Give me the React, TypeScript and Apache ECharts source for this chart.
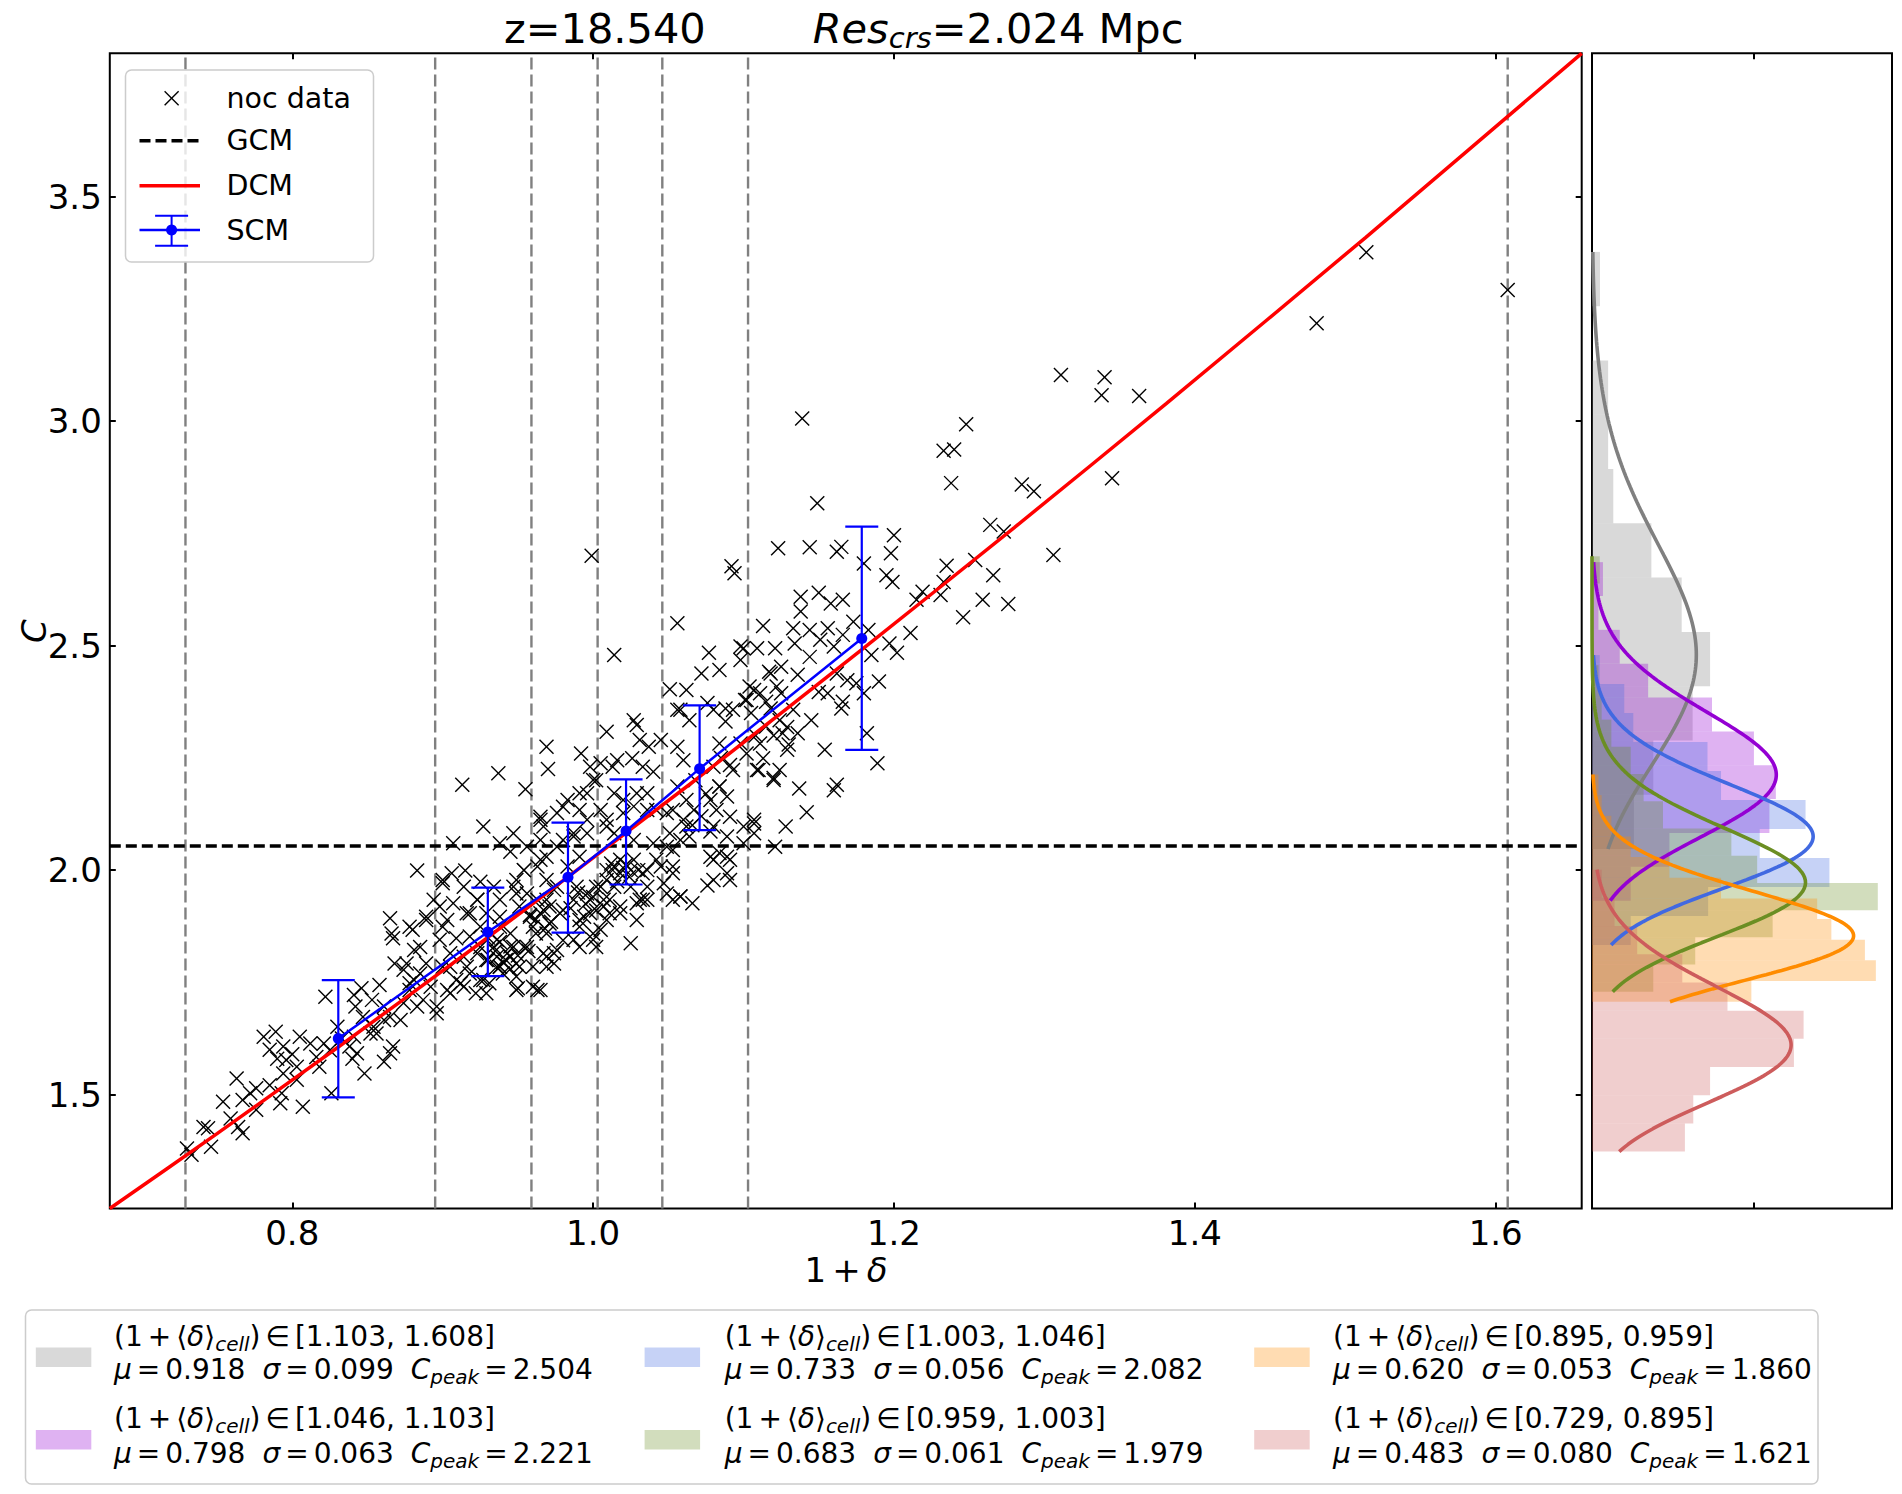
import React, { useEffect, useRef } from "react";
import * as echarts from "echarts";

const FONT = "DejaVu Sans";

// main panel axes
const xTicks = [0.8, 1.0, 1.2, 1.4, 1.6];
const yTicks = [1.5, 2.0, 2.5, 3.0, 3.5];
const deltaRange = [0.6787, 1.6572];
const cRange = [1.2463, 3.8194];

// cell bin edges (1+delta), global model, density model
const binEdges = [0.729, 0.895, 0.959, 1.003, 1.046, 1.103, 1.608];
const gcmC = 2.054;
const dcmDelta = [0.6787, 0.75, 0.8306, 0.93, 0.9833, 1.0708, 1.1786, 1.28, 1.381, 1.5135, 1.6572];
const dcmC = [1.2463, 1.413, 1.606, 1.85, 1.985, 2.208, 2.491, 2.763, 3.039, 3.409, 3.8194];

// SCM points with error bars
const scmDelta = [0.8306, 0.93, 0.9833, 1.0219, 1.0708, 1.1786];
const scmC = [1.625, 1.862, 1.984, 2.087, 2.226, 2.516];
const scmLow = [1.494, 1.764, 1.861, 1.968, 2.089, 2.268];
const scmHigh = [1.755, 1.961, 2.106, 2.202, 2.367, 2.765];

// noc data, [1+delta, C]
const nocHigh = [
  [1.514, 3.376], [1.608, 3.292], [1.481, 3.218], [1.311, 3.103], [1.34, 3.098], [1.338, 3.058], [1.363, 3.056],
  [1.139, 3.006], [1.248, 2.993], [1.233, 2.934], [1.24, 2.937], [1.238, 2.862], [1.285, 2.859], [1.293, 2.844],
  [1.345, 2.873], [1.149, 2.817], [1.264, 2.769], [1.273, 2.754], [1.2, 2.746], [1.123, 2.717], [1.144, 2.719],
  [1.162, 2.709], [1.165, 2.72], [1.198, 2.706], [1.18, 2.683], [1.306, 2.702], [1.235, 2.678], [1.254, 2.691],
  [1.195, 2.657], [1.199, 2.642], [1.266, 2.657], [1.233, 2.642], [1.219, 2.62], [1.215, 2.602], [1.231, 2.613],
  [1.259, 2.602], [1.276, 2.593], [1.246, 2.563], [1.211, 2.528], [1.138, 2.609], [1.15, 2.618], [1.158, 2.594],
  [1.166, 2.602], [1.138, 2.576], [1.113, 2.544], [1.133, 2.539], [1.144, 2.535], [1.156, 2.539], [1.173, 2.553],
  [1.183, 2.535], [1.166, 2.524], [1.151, 2.513], [1.134, 2.505], [1.121, 2.494], [1.109, 2.494], [1.1, 2.494],
  [1.197, 2.505], [1.202, 2.484], [1.185, 2.479], [1.144, 2.475], [1.16, 2.498], [1.125, 2.453], [1.117, 2.442],
  [1.136, 2.435], [1.162, 2.438], [1.169, 2.423], [1.19, 2.42], [1.175, 2.416], [1.104, 2.409], [1.111, 2.394],
  [1.122, 2.409], [1.125, 2.394], [1.15, 2.397], [1.156, 2.394], [1.18, 2.394], [1.102, 2.379], [1.115, 2.375],
  [1.166, 2.375], [1.165, 2.36], [1.133, 2.357], [1.124, 2.334], [1.145, 2.334], [1.129, 2.319], [1.136, 2.305],
  [1.126, 2.305], [1.182, 2.305], [1.111, 2.282], [1.129, 2.268], [1.154, 2.268], [1.102, 2.26], [1.113, 2.249],
  [1.124, 2.223], [1.11, 2.223], [1.12, 2.205], [1.189, 2.238], [1.137, 2.182], [1.162, 2.19], [1.16, 2.178],
  [1.142, 2.129], [1.107, 2.112], [1.128, 2.097], [1.107, 2.082], [1.1, 2.097], [1.121, 2.052],
  [0.999, 2.7], [1.014, 2.479], [1.056, 2.55], [1.092, 2.677], [1.094, 2.661], [1.077, 2.484], [1.098, 2.498],
  [1.072, 2.438], [1.084, 2.446], [1.098, 2.468], [1.051, 2.403], [1.062, 2.401], [1.058, 2.357], [1.076, 2.372],
  [1.088, 2.36], [1.101, 2.379], [1.107, 2.401], [1.118, 2.438], [1.027, 2.334],
  [1.105, 2.35], [1.115, 2.32], [1.12, 2.3], [1.13, 2.28], [1.108, 2.3], [1.118, 2.36],
];

const nocMid = [
  [0.913, 2.19], [0.937, 2.216], [0.955, 2.18], [0.969, 2.275], [0.97, 2.225], [0.927, 2.097], [0.947, 2.082],
  [0.945, 2.041], [0.907, 2.06], [0.883, 1.999], [0.9, 1.978], [0.915, 1.999], [1.009, 2.308], [1.029, 2.323],
  [0.992, 2.26], [0.998, 2.23], [1.005, 2.238], [1.016, 2.245], [1.026, 2.249], [1.031, 2.29], [1.037, 2.275],
  [1.045, 2.29], [1.033, 2.23], [1.04, 2.219], [1.056, 2.357], [1.064, 2.334], [1.08, 2.357], [1.088, 2.331],
  [1.093, 2.357], [1.084, 2.282], [1.098, 2.282], [1.056, 2.275], [1.06, 2.245], [1.08, 2.23], [1.091, 2.234],
  [1.084, 2.186], [1.089, 2.164], [1.082, 2.134], [1.091, 2.119], [1.078, 2.086], [1.056, 2.186], [1.062, 2.156],
  [1.049, 2.127], [1.06, 2.112], [1.051, 2.082], [1.064, 2.075], [1.036, 2.171], [1.042, 2.134], [1.014, 2.171],
  [1.02, 2.156], [1.027, 2.142], [1.0, 2.201], [0.996, 2.171], [0.991, 2.134], [0.983, 2.156], [0.976, 2.127],
  [1.005, 2.134], [1.009, 2.112], [1.014, 2.082], [0.996, 2.082], [0.987, 2.082], [0.967, 2.097], [0.965, 2.119],
  [0.98, 2.067], [1.1, 2.06], [1.107, 2.104], [1.084, 2.038], [1.08, 2.023], [1.091, 2.023], [1.08, 1.978],
  [1.014, 2.008], [1.018, 1.993], [1.009, 2.0], [1.027, 2.023], [1.033, 1.993], [1.045, 2.008], [1.053, 1.993],
  [1.049, 1.948], [1.058, 1.941], [1.025, 1.837], [1.036, 1.934], [1.029, 1.926], [1.005, 1.963], [0.996, 1.948],
  [1.007, 1.919], [0.998, 1.904], [1.011, 1.904], [0.991, 1.874], [1.005, 1.867], [1.0, 1.845], [0.987, 1.845],
  [0.978, 1.904], [0.971, 1.919], [0.987, 1.934], [0.976, 1.963], [0.969, 1.978], [0.963, 2.008], [0.969, 2.03],
  [0.954, 2.0], [0.949, 1.978], [0.956, 1.948], [0.951, 1.919], [0.965, 1.904], [0.96, 1.874], [0.969, 1.859],
  [0.956, 1.829], [0.967, 1.815], [0.974, 1.792], [0.96, 1.785], [0.949, 1.763], [0.938, 1.785], [0.943, 1.815],
  [0.936, 1.845], [0.923, 1.815], [0.916, 1.785], [0.925, 1.755], [0.912, 1.748], [0.903, 1.733], [0.9, 1.785],
  [0.905, 1.815], [0.898, 1.845], [0.885, 1.829], [0.88, 1.867], [0.889, 1.896], [0.903, 1.889], [0.916, 1.904],
  [0.923, 1.934], [0.925, 1.874], [0.938, 1.896], [0.945, 1.859], [0.936, 1.807], [0.876, 1.792], [0.878, 1.748],
  [0.892, 1.74], [0.929, 1.726], [0.963, 1.733], [0.994, 1.896], [0.989, 1.963], [0.983, 2.008], [0.991, 2.03],
  [0.925, 1.974], [0.934, 1.963], [0.914, 1.963], [0.894, 1.934], [0.907, 1.926], [1.018, 1.919], [1.014, 1.963],
  [1.036, 1.963], [1.025, 1.963], [1.029, 1.889], [1.007, 1.934], [0.956, 2.052], [0.965, 2.067], [0.938, 2.06],
  [1.027, 2.067], [1.04, 2.06], [1.091, 1.978], [1.053, 2.045], [1.066, 1.926], [1.076, 1.966], [1.089, 1.993],
  [0.906, 1.993],
];

const nocDense = [
  [1.012, 2.015], [1.02, 2.005], [1.024, 1.985], [1.016, 1.975], [1.022, 2.012], [1.03, 2.0], [0.99, 1.95],
  [0.995, 1.925], [1.0, 1.94], [0.985, 1.915], [1.002, 1.91], [0.93, 1.8], [0.94, 1.795], [0.935, 1.82],
  [0.945, 1.78], [0.962, 1.89], [0.972, 1.885], [0.968, 1.87], [0.958, 1.9], [0.93, 1.85], [0.938, 1.84],
  [0.945, 1.83], [0.95, 1.81], [0.957, 1.82], [1.068, 2.2], [1.075, 2.17], [1.072, 2.12], [1.085, 2.25],
  [1.066, 2.1], [0.98, 2.141], [0.991, 2.171], [1.002, 2.2], [1.013, 2.23], [1.029, 2.171], [1.036, 2.134],
  [1.02, 2.127], [1.009, 2.097], [0.996, 2.112], [0.987, 2.075], [0.976, 2.052], [0.965, 2.112], [0.965, 2.023],
  [0.954, 2.0], [0.947, 1.963], [0.938, 1.934], [0.929, 1.904], [0.938, 1.874], [0.947, 1.829], [0.951, 1.785],
  [0.938, 1.785], [0.965, 1.733], [0.949, 1.733], [0.931, 1.748], [0.969, 1.934], [0.98, 1.911], [0.991, 1.889],
  [1.0, 1.859], [1.002, 1.829], [0.991, 1.829], [0.98, 1.844], [0.974, 1.815], [0.969, 1.785], [1.013, 2.0],
  [1.018, 2.023], [1.009, 1.978], [1.002, 1.963], [0.998, 1.934], [1.011, 1.934], [1.018, 1.904], [1.009, 1.889],
  [1.031, 1.934], [1.025, 2.0], [1.036, 2.0], [1.042, 2.023], [1.053, 2.008], [1.049, 2.052], [1.058, 2.067],
  [1.062, 2.097], [1.053, 2.134], [1.067, 2.134], [1.078, 2.156], [1.084, 2.186], [1.093, 2.223], [1.08, 2.097],
  [1.089, 2.075], [1.078, 2.03], [1.089, 2.03], [1.058, 1.941], [1.053, 1.934], [1.047, 1.971], [1.033, 1.934],
  [1.12, 2.201], [1.109, 2.223], [0.958, 1.896], [0.962, 1.859], [0.942, 1.8], [0.785, 1.6], [0.79, 1.58],
  [0.8, 1.59],
];

const nocLow = [
  [0.73, 1.38], [0.733, 1.366], [0.741, 1.428], [0.744, 1.425], [0.746, 1.384], [0.754, 1.484], [0.759, 1.447],
  [0.764, 1.428], [0.767, 1.414], [0.763, 1.536], [0.767, 1.488], [0.772, 1.503], [0.776, 1.514], [0.776, 1.466],
  [0.781, 1.629], [0.789, 1.64], [0.785, 1.521], [0.792, 1.481], [0.793, 1.503], [0.794, 1.547], [0.794, 1.607],
  [0.796, 1.577], [0.803, 1.562], [0.805, 1.629], [0.803, 1.533], [0.807, 1.473], [0.812, 1.614], [0.816, 1.584],
  [0.818, 1.562], [0.821, 1.614], [0.825, 1.599], [0.826, 1.503], [0.822, 1.718], [0.83, 1.651], [0.833, 1.625],
  [0.838, 1.607], [0.841, 1.629], [0.84, 1.58], [0.843, 1.592], [0.848, 1.547], [0.842, 1.696], [0.841, 1.722],
  [0.846, 1.737], [0.858, 1.744], [0.853, 1.711], [0.847, 1.673], [0.854, 1.651], [0.856, 1.636], [0.861, 1.666],
  [0.865, 1.673], [0.867, 1.607], [0.865, 1.592], [0.861, 1.573], [0.852, 1.636], [0.872, 1.666], [0.865, 1.893],
  [0.866, 1.859], [0.867, 1.848], [0.868, 1.792], [0.874, 1.778], [0.881, 1.822], [0.881, 1.755], [0.885, 1.77],
  [0.889, 1.792], [0.889, 1.889], [0.878, 1.874], [0.9, 1.874], [0.898, 1.919], [0.9, 1.971], [0.878, 1.733],
  [0.887, 1.711], [0.896, 1.696], [0.896, 1.681], [0.883, 1.696], [0.861, 1.696], [0.874, 1.704], [0.905, 1.726],
  [0.909, 1.755], [0.905, 1.785], [0.914, 1.807], [0.914, 1.74], [0.918, 1.77], [0.922, 1.726], [0.925, 1.829],
  [0.918, 1.852], [0.909, 1.848], [0.927, 1.755], [0.929, 1.8], [0.934, 1.829], [0.936, 1.785], [0.94, 1.77],
  [0.945, 1.807], [0.949, 1.792], [0.954, 1.829], [0.96, 1.74], [0.95, 1.737], [0.969, 1.807], [0.976, 1.822],
  [0.971, 1.881], [0.967, 1.911], [0.949, 1.948], [0.963, 1.934], [0.974, 1.956], [0.923, 1.934], [0.918, 1.904],
];

// cell groups (legend order)
const groupRanges = ["[1.103, 1.608]", "[1.046, 1.103]", "[1.003, 1.046]", "[0.959, 1.003]", "[0.895, 0.959]", "[0.729, 0.895]"];
const groupMu = [0.918, 0.798, 0.733, 0.683, 0.62, 0.483];
const groupSigma = [0.099, 0.063, 0.056, 0.061, 0.053, 0.08];
const groupPeak = ["2.504", "2.221", "2.082", "1.979", "1.860", "1.621"];
const groupLine = ["#808080", "#9400d3", "#4169e1", "#6b8e23", "#ff8c00", "#cd5c5c"];
const groupFill = [
  "rgba(128,128,128,0.3)", "rgba(148,0,211,0.3)", "rgba(65,105,225,0.3)",
  "rgba(107,142,35,0.3)", "rgba(255,140,0,0.3)", "rgba(205,92,92,0.3)",
];
const groupCMin = [2.047, 1.932, 1.833, 1.729, 1.707, 1.373];
const groupCMax = [3.377, 2.686, 2.479, 2.699, 2.213, 2.001];

// histogram densities, top bin first
const histGray = [0.124, 0, 0.25, 0.25, 0.33, 0.92, 1.39, 1.83, 1.56, 0.95, 0.65];
const histPurple = [0.17, 0.1, 0.43, 0.87, 1.86, 2.51, 2.85, 2.75, 1.2, 0.6];
const histBlue = [0.12, 0.5, 0.64, 1.79, 2.0, 3.31, 2.6, 3.68, 1.8, 0.6];
const histGreen = [0.12, 0, 0, 0, 0.1, 0.15, 0.3, 0.6, 0.8, 1.1, 2.16, 2.56, 4.43, 2.8, 1.6, 0.95];
const histOrange = [0.1, 0.15, 0.3, 0.6, 1.2, 2.0, 3.49, 3.71, 4.23, 4.4, 2.47];
const histRed = [0.15, 0.35, 0.7, 1.4, 2.1, 3.28, 3.13, 1.83, 1.57, 1.44];
const groupHist = [histGray, histPurple, histBlue, histGreen, histOrange, histRed];
const densityMax = 4.65;
const densityTicks = [2.5];

const lognormal = (c: number, mu: number, s: number) =>
  Math.exp(-((Math.log(c) - mu) ** 2) / (2 * s * s)) / (c * s * Math.sqrt(2 * Math.PI));

const MAIN = { left: 109.8, top: 53.3, width: 1471.9, height: 1155.2 };
const SIDE = { left: 1592, top: 53.3, width: 300, height: 1155.2 };

const tickStyle = { color: "#000", width: 2 };

const crossItem = (x: number, y: number, h: number, w: number, z?: number) => ({
  type: "group",
  children: [
    { type: "line", z, shape: { x1: x - h, y1: y - h, x2: x + h, y2: y + h }, style: { stroke: "#000", lineWidth: w } },
    { type: "line", z, shape: { x1: x - h, y1: y + h, x2: x + h, y2: y - h }, style: { stroke: "#000", lineWidth: w } },
  ],
});

const legendRich: any = {
  n: { fontSize: 28, fontFamily: FONT, fill: "#000" },
  i: { fontSize: 28, fontFamily: FONT, fontStyle: "italic", fill: "#000" },
  o: { fontSize: 28, fontFamily: FONT, fill: "#000", padding: [0, 5, 0, 5] },
  g: { fontSize: 28, fontFamily: FONT, fontStyle: "italic", fill: "#000", padding: [0, 0, 0, 17] },
  s: { fontSize: 20, fontFamily: FONT, fontStyle: "italic", fill: "#000", padding: [15, 0, 0, 0] },
};

const legendCols = [
  { patch: 35.8, text: 114 },
  { patch: 644.6, text: 724.7 },
  { patch: 1254.2, text: 1333 },
];
const legendRows = [
  { patch: 1347.5, l1: 1336.3, l2: 1369.7 },
  { patch: 1430, l1: 1418.7, l2: 1453 },
];

const App = () => {
  const chartRef = useRef<HTMLDivElement>(null);

  useEffect(() => {
    document.body.style.margin = "0";
    const chart = echarts.init(chartRef.current as HTMLDivElement, null, { renderer: "svg" });

    const nocData = [...nocLow, ...nocMid, ...nocDense, ...nocHigh];
    const scmPoints = scmDelta.map((d, i) => [d, scmC[i]]);
    const scmBars = scmDelta.map((d, i) => [d, scmLow[i], scmHigh[i]]);

    const histSeries = groupHist.map((dens, g) => {
      const h = (groupCMax[g] - groupCMin[g]) / dens.length;
      return {
        type: "custom",
        name: "hist" + g,
        xAxisIndex: 2,
        yAxisIndex: 2,
        z: 2,
        data: dens.map((d, i) => [groupCMax[g] - (i + 1) * h, groupCMax[g] - i * h, d]),
        renderItem: (params: any, api: any) => {
          const top = api.coord([api.value(2), api.value(1)]);
          const bot = api.coord([0, api.value(0)]);
          return {
            type: "rect",
            shape: { x: bot[0], y: top[1], width: top[0] - bot[0], height: bot[1] - top[1] },
            style: { fill: groupFill[g] },
          };
        },
      };
    });

    const curveSeries = groupMu.map((mu, g) => {
      const n = 160;
      const pts = [];
      for (let k = 0; k <= n; k++) {
        const c = groupCMin[g] + ((groupCMax[g] - groupCMin[g]) * k) / n;
        pts.push([lognormal(c, mu, groupSigma[g]), c]);
      }
      return {
        type: "line",
        name: "fit" + g,
        xAxisIndex: 2,
        yAxisIndex: 2,
        z: 5,
        data: pts,
        showSymbol: false,
        symbol: "none",
        lineStyle: { color: groupLine[g], width: 3.6 },
      };
    });

    const graphic: any[] = [];

    // title
    graphic.push({
      type: "text",
      style: {
        x: 504,
        y: 28,
        align: "left",
        verticalAlign: "middle",
        text: "{m|z=18.540}{mi|Res}{ms|crs}{m|=2.024 Mpc}",
        rich: {
          m: { fontSize: 41.5, fontFamily: FONT, fill: "#000" },
          mi: { fontSize: 41.5, fontFamily: FONT, fontStyle: "italic", fill: "#000", padding: [0, 0, 0, 107] },
          ms: { fontSize: 29, fontFamily: FONT, fontStyle: "italic", fill: "#000", padding: [20, 0, 0, 0] },
        },
      },
    });

    // axis titles
    graphic.push({
      type: "text",
      style: {
        x: 846,
        y: 1270,
        align: "center",
        verticalAlign: "middle",
        text: "{n|1}{o|+}{i|δ}",
        rich: {
          n: { fontSize: 34, fontFamily: FONT, fill: "#000" },
          o: { fontSize: 34, fontFamily: FONT, fill: "#000", padding: [0, 6, 0, 6] },
          i: { fontSize: 34, fontFamily: FONT, fontStyle: "italic", fill: "#000" },
        },
      },
    });
    graphic.push({
      type: "text",
      x: 34,
      y: 631,
      rotation: Math.PI / 2,
      style: {
        x: 0,
        y: 0,
        align: "center",
        verticalAlign: "middle",
        text: "C",
        fontSize: 34,
        fontFamily: FONT,
        fontStyle: "italic",
        fill: "#000",
      },
    });

    // legend of the main panel
    const lx0 = 139.5;
    const lx1 = 200;
    const lmx = 171.6;
    graphic.push({
      type: "rect",
      shape: { x: 125.5, y: 70, width: 248, height: 192, r: 6 },
      style: { fill: "rgba(255,255,255,0.8)", stroke: "#cccccc", lineWidth: 1.5 },
      z: 20,
    });
    graphic.push({ ...crossItem(lmx, 98.3, 7, 1.4, 21), z: 21 });
    graphic.push({
      type: "line",
      z: 21,
      shape: { x1: lx0, y1: 140.7, x2: lx1, y2: 140.7 },
      style: { stroke: "#000", lineWidth: 3.5, lineDash: [11, 5] },
    });
    graphic.push({
      type: "line",
      z: 21,
      shape: { x1: lx0, y1: 185.7, x2: lx1, y2: 185.7 },
      style: { stroke: "#ff0000", lineWidth: 3.5 },
    });
    graphic.push({
      type: "group",
      z: 21,
      children: [
        { type: "line", z: 21, shape: { x1: lx0, y1: 230, x2: lx1, y2: 230 }, style: { stroke: "#0000ff", lineWidth: 2.5 } },
        { type: "line", z: 21, shape: { x1: lmx, y1: 215.7, x2: lmx, y2: 245.7 }, style: { stroke: "#0000ff", lineWidth: 2 } },
        { type: "line", z: 21, shape: { x1: lmx - 16.5, y1: 215.7, x2: lmx + 16.5, y2: 215.7 }, style: { stroke: "#0000ff", lineWidth: 2 } },
        { type: "line", z: 21, shape: { x1: lmx - 16.5, y1: 245.7, x2: lmx + 16.5, y2: 245.7 }, style: { stroke: "#0000ff", lineWidth: 2 } },
        { type: "circle", z: 21, shape: { cx: lmx, cy: 230, r: 5.5 }, style: { fill: "#0000ff" } },
      ],
    });
    ["noc data", "GCM", "DCM", "SCM"].forEach((t, k) => {
      graphic.push({
        type: "text",
        z: 21,
        style: {
          x: 226.5,
          y: [98.3, 140.7, 185.7, 230][k],
          align: "left",
          verticalAlign: "middle",
          text: t,
          fontSize: 28.5,
          fontFamily: FONT,
          fill: "#000",
        },
      });
    });

    // legend of the cell groups
    graphic.push({
      type: "rect",
      shape: { x: 25.5, y: 1310, width: 1792.5, height: 174, r: 6 },
      style: { fill: "#ffffff", stroke: "#cccccc", lineWidth: 1.5 },
    });
    groupRanges.forEach((rg, g) => {
      const col = legendCols[Math.floor(g / 2)];
      const row = legendRows[g % 2];
      graphic.push({
        type: "rect",
        shape: { x: col.patch, y: row.patch, width: 55.5, height: 19.5 },
        style: { fill: groupFill[g] },
      });
      graphic.push({
        type: "text",
        style: {
          x: col.text,
          y: row.l1,
          align: "left",
          verticalAlign: "middle",
          text: "{n|(1}{o|+}{n|⟨}{i|δ}{n|⟩}{s|cell}{n|)}{o|∈}{n|" + rg + "}",
          rich: legendRich,
        },
      });
      graphic.push({
        type: "text",
        style: {
          x: col.text,
          y: row.l2,
          align: "left",
          verticalAlign: "middle",
          text:
            "{i|μ}{o|=}{n|" + groupMu[g].toFixed(3) + "}{g|σ}{o|=}{n|" + groupSigma[g].toFixed(3) +
            "}{g|C}{s|peak}{o|=}{n|" + groupPeak[g] + "}",
          rich: legendRich,
        },
      });
    });

    const option = {
      animation: false,
      backgroundColor: "#ffffff",
      textStyle: { fontFamily: FONT },
      grid: [
        { ...MAIN, show: true, borderColor: "#000", borderWidth: 2, backgroundColor: "transparent" },
        { ...SIDE, show: true, borderColor: "#000", borderWidth: 2, backgroundColor: "transparent" },
      ],
      xAxis: [
        {
          type: "value",
          gridIndex: 0,
          position: "bottom",
          min: deltaRange[0],
          max: deltaRange[1],
          axisLine: { show: false },
          splitLine: { show: false },
          axisTick: { show: true, inside: true, length: 6, customValues: xTicks, lineStyle: tickStyle },
          axisLabel: {
            show: true,
            customValues: xTicks,
            formatter: (v: number) => v.toFixed(1),
            fontSize: 34,
            fontFamily: FONT,
            color: "#000",
            margin: 7,
          },
        },
        {
          type: "value",
          gridIndex: 0,
          position: "top",
          min: deltaRange[0],
          max: deltaRange[1],
          axisLine: { show: false },
          splitLine: { show: false },
          axisTick: { show: true, inside: true, length: 6, customValues: xTicks, lineStyle: tickStyle },
          axisLabel: { show: false },
        },
        {
          type: "value",
          gridIndex: 1,
          position: "bottom",
          min: 0,
          max: densityMax,
          axisLine: { show: false },
          splitLine: { show: false },
          axisTick: { show: true, inside: true, length: 6, customValues: densityTicks, lineStyle: tickStyle },
          axisLabel: { show: false },
        },
        {
          type: "value",
          gridIndex: 1,
          position: "top",
          min: 0,
          max: densityMax,
          axisLine: { show: false },
          splitLine: { show: false },
          axisTick: { show: true, inside: true, length: 6, customValues: densityTicks, lineStyle: tickStyle },
          axisLabel: { show: false },
        },
      ],
      yAxis: [
        {
          type: "value",
          gridIndex: 0,
          position: "left",
          min: cRange[0],
          max: cRange[1],
          axisLine: { show: false },
          splitLine: { show: false },
          axisTick: { show: true, inside: true, length: 6, customValues: yTicks, lineStyle: tickStyle },
          axisLabel: {
            show: true,
            customValues: yTicks,
            formatter: (v: number) => v.toFixed(1),
            fontSize: 34,
            fontFamily: FONT,
            color: "#000",
            margin: 8,
          },
        },
        {
          type: "value",
          gridIndex: 0,
          position: "right",
          min: cRange[0],
          max: cRange[1],
          axisLine: { show: false },
          splitLine: { show: false },
          axisTick: { show: true, inside: true, length: 6, customValues: yTicks, lineStyle: tickStyle },
          axisLabel: { show: false },
        },
        {
          type: "value",
          gridIndex: 1,
          min: cRange[0],
          max: cRange[1],
          axisLine: { show: false },
          splitLine: { show: false },
          axisTick: { show: false },
          axisLabel: { show: false },
        },
      ],
      series: [
        {
          type: "custom",
          name: "edges",
          xAxisIndex: 0,
          yAxisIndex: 0,
          z: 1,
          silent: true,
          data: binEdges.map((v) => [v, cRange[0]]),
          renderItem: (params: any, api: any) => {
            const a = api.coord([api.value(0), cRange[0]]);
            const b = api.coord([api.value(0), cRange[1]]);
            return {
              type: "line",
              shape: { x1: a[0], y1: a[1], x2: b[0], y2: b[1] },
              style: { stroke: "#808080", lineWidth: 2.4, lineDash: [12, 5] },
            };
          },
        },
        {
          type: "custom",
          name: "noc data",
          xAxisIndex: 0,
          yAxisIndex: 0,
          z: 2,
          clip: true,
          data: nocData,
          renderItem: (params: any, api: any) => {
            const p = api.coord([api.value(0), api.value(1)]);
            return crossItem(p[0], p[1], 7, 1.4);
          },
        },
        {
          type: "custom",
          name: "GCM",
          xAxisIndex: 0,
          yAxisIndex: 0,
          z: 3,
          silent: true,
          data: [[deltaRange[0], gcmC]],
          renderItem: (params: any, api: any) => {
            const a = api.coord([deltaRange[0], api.value(1)]);
            const b = api.coord([deltaRange[1], api.value(1)]);
            return {
              type: "line",
              shape: { x1: a[0], y1: a[1], x2: b[0], y2: b[1] },
              style: { stroke: "#000", lineWidth: 3.5, lineDash: [11, 5] },
            };
          },
        },
        {
          type: "line",
          name: "DCM",
          xAxisIndex: 0,
          yAxisIndex: 0,
          z: 4,
          data: dcmDelta.map((d, i) => [d, dcmC[i]]),
          showSymbol: false,
          symbol: "none",
          smooth: 0.2,
          lineStyle: { color: "#ff0000", width: 3.5 },
        },
        {
          type: "line",
          name: "SCM",
          xAxisIndex: 0,
          yAxisIndex: 0,
          z: 5,
          data: scmPoints,
          symbol: "circle",
          symbolSize: 11,
          itemStyle: { color: "#0000ff" },
          lineStyle: { color: "#0000ff", width: 2.5 },
        },
        {
          type: "custom",
          name: "SCM errors",
          xAxisIndex: 0,
          yAxisIndex: 0,
          z: 5,
          data: scmBars,
          renderItem: (params: any, api: any) => {
            const lo = api.coord([api.value(0), api.value(1)]);
            const hi = api.coord([api.value(0), api.value(2)]);
            const w = 16.5;
            const st = { stroke: "#0000ff", lineWidth: 2.2 };
            return {
              type: "group",
              children: [
                { type: "line", shape: { x1: lo[0], y1: lo[1], x2: hi[0], y2: hi[1] }, style: st },
                { type: "line", shape: { x1: lo[0] - w, y1: lo[1], x2: lo[0] + w, y2: lo[1] }, style: st },
                { type: "line", shape: { x1: hi[0] - w, y1: hi[1], x2: hi[0] + w, y2: hi[1] }, style: st },
              ],
            };
          },
        },
        ...histSeries,
        ...curveSeries,
      ],
      graphic,
    };

    chart.setOption(option as any);
    return () => {
      chart.dispose();
    };
  }, []);

  return <div ref={chartRef} style={{ width: "1902px", height: "1494px" }} />;
};

export default App;
